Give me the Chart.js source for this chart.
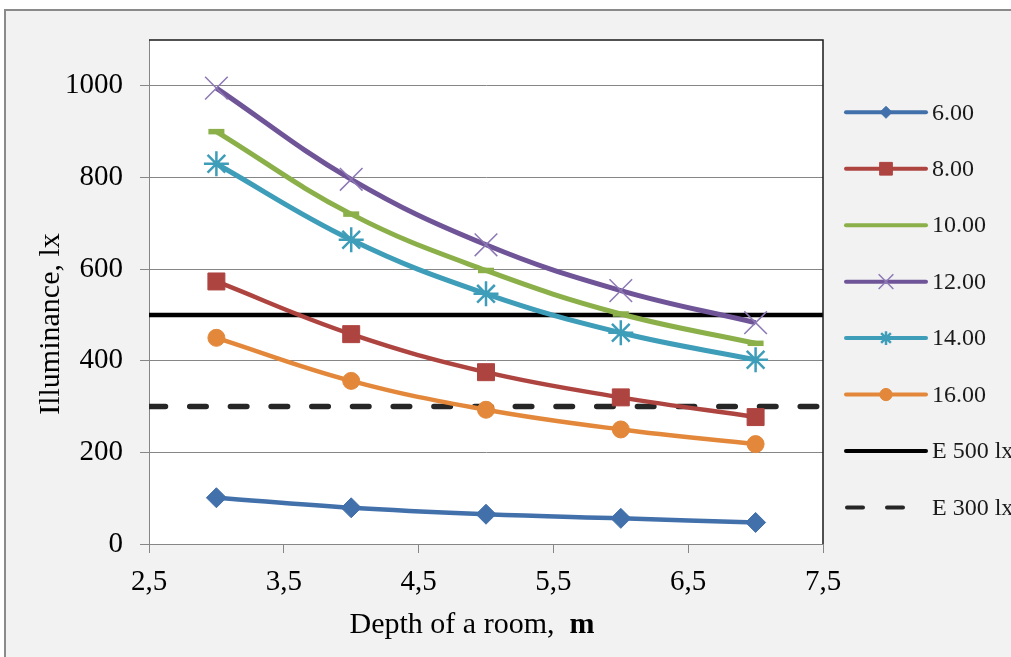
<!DOCTYPE html>
<html>
<head>
<meta charset="utf-8">
<style>
  html, body { margin: 0; padding: 0; background: #ffffff; }
  #wrap { position: relative; width: 1011px; height: 657px; }
  canvas { display: block; }
</style>
<script src="https://cdn.jsdelivr.net/npm/chart.js@4.4.1/dist/chart.umd.min.js"></script>
</head>
<body>
<div id="wrap"><canvas id="c" width="1011" height="657"></canvas></div>
<script>
// Room depth (m) and illuminance (lx) for each series
const depths = [3, 4, 5, 6, 7];
const seriesNames = ['6.00', '8.00', '10.00', '12.00', '14.00', '16.00'];
const lux6  = [101, 79, 65, 56, 47];
const lux8  = [573, 458, 375, 320, 277];
const lux10 = [900, 720, 597, 502, 438];
const lux12 = [995, 796, 653, 553, 483];
const lux14 = [830, 664, 546, 461, 402];
const lux16 = [450, 356, 293, 250, 218];

// Required illuminance levels
const refNames = ['E 500 lx', 'E 300 lx'];
const refLevels = [500, 300];

// Axis ticks
const xRange = [2.5, 7.5];
const xTickValues = [2.5, 3.5, 4.5, 5.5, 6.5, 7.5];
const xTickLabels = ['2,5', '3,5', '4,5', '5,5', '6,5', '7,5'];
const yTickValues = [0, 200, 400, 600, 800, 1000];
const yTickLabels = ['0', '200', '400', '600', '800', '1000'];

const SERIF = '"Liberation Serif", "Times New Roman", serif';

const seriesValues = [lux6, lux8, lux10, lux12, lux14, lux16];
const seriesStyle = [
  { color: '#4270AB', mark: '#4270AB', point: 'rectRot',  r: 10,   bw: 1,   lw: 4.5, lr: 0.6 },
  { color: '#AE4440', mark: '#AE4440', point: 'rect',     r: 12,   bw: 1,   lw: 4.5, lr: 0.75 },
  { color: '#8BB04A', mark: '#8BB04A', point: 'line',     r: 8,    bw: 5.5, lw: 5,   lr: 0 },
  { color: '#6F5497', mark: '#8D78B5', point: 'crossRot', r: 16,   bw: 1.5, lw: 5,   lr: 0.65 },
  { color: '#3E9DB8', mark: '#3E9DB8', point: 'star',     r: 12.5, bw: 2.5, lw: 5,   lr: 0.55 },
  { color: '#E3883A', mark: '#E3883A', point: 'circle',   r: 8.5,  bw: 1,   lw: 4.5, lr: 0.72 }
];

const datasets = seriesValues.map((vals, i) => {
  const s = seriesStyle[i];
  return {
    label: seriesNames[i],
    data: depths.map((d, k) => ({ x: d, y: vals[k] })),
    borderColor: s.color,
    backgroundColor: s.mark,
    borderWidth: s.lw,
    tension: 0.4,
    pointStyle: s.point,
    pointRadius: s.r,
    pointBorderWidth: s.bw,
    pointBorderColor: s.mark,
    pointBackgroundColor: s.mark,
    legendMarkerScale: s.lr
  };
});

refLevels.forEach((lv, i) => {
  datasets.push({
    label: refNames[i],
    data: xRange.map(x => ({ x: x, y: lv })),
    borderColor: i === 0 ? '#000000' : '#262626',
    backgroundColor: i === 0 ? '#000000' : '#262626',
    borderWidth: i === 0 ? 4.5 : 5.5,
    borderDash: i === 0 ? [] : [16.5, 24.2],
    borderCapStyle: i === 0 ? 'butt' : 'round',
    pointRadius: 0,
    tension: 0,
    legendMarkerScale: 0
  });
});

// Backgrounds, plot frame, axis titles and the legend on the right
const decor = {
  id: 'decor',
  beforeDraw(chart) {
    const ctx = chart.ctx;
    const a = chart.chartArea;
    ctx.save();
    ctx.fillStyle = '#ffffff';
    ctx.fillRect(0, 0, chart.width, chart.height);
    ctx.fillStyle = '#f2f2f2';
    ctx.fillRect(4, 9, chart.width, chart.height);
    ctx.strokeStyle = '#8a8a8a';
    ctx.lineWidth = 2;
    ctx.beginPath();
    ctx.moveTo(5, chart.height);
    ctx.lineTo(5, 10);
    ctx.lineTo(chart.width, 10);
    ctx.stroke();
    ctx.fillStyle = '#ffffff';
    ctx.fillRect(a.left, a.top, a.right - a.left, a.bottom - a.top);
    ctx.restore();
  },
  afterDraw(chart) {
    const ctx = chart.ctx;
    const a = chart.chartArea;
    ctx.save();
    // top and right frame of the plot
    ctx.strokeStyle = '#1a1a1a';
    ctx.lineWidth = 1.5;
    ctx.beginPath();
    ctx.moveTo(a.left, a.top);
    ctx.lineTo(a.right, a.top);
    ctx.lineTo(a.right, a.bottom);
    ctx.stroke();

    // axis titles
    ctx.fillStyle = '#000000';
    ctx.textBaseline = 'alphabetic';
    ctx.font = '30px ' + SERIF;
    const t1 = 'Depth of a room,  ';
    const w1 = ctx.measureText(t1).width;
    ctx.font = 'bold 30px ' + SERIF;
    const w2 = ctx.measureText('m').width;
    const x0 = 472 - (w1 + w2) / 2;
    ctx.font = '30px ' + SERIF;
    ctx.textAlign = 'left';
    ctx.fillText(t1, x0, 633);
    ctx.font = 'bold 30px ' + SERIF;
    ctx.fillText('m', x0 + w1, 633);

    ctx.save();
    ctx.translate(58.5, 324);
    ctx.rotate(-Math.PI / 2);
    ctx.font = '30px ' + SERIF;
    ctx.textAlign = 'center';
    ctx.fillText('Illuminance, lx', 0, 0);
    ctx.restore();

    // legend
    const x1 = 846, x2 = 926, xm = 886, y0 = 112.3, step = 56.45;
    chart.data.datasets.forEach((ds, i) => {
      const y = y0 + i * step;
      const dashed = ds.borderDash && ds.borderDash.length;
      ctx.save();
      ctx.strokeStyle = ds.borderColor;
      ctx.lineWidth = 4;
      ctx.lineCap = 'round';
      ctx.setLineDash(dashed ? [16, 24] : []);
      ctx.beginPath();
      ctx.moveTo(x1 + (dashed ? 1 : 0), y);
      ctx.lineTo(x2, y);
      ctx.stroke();
      ctx.restore();
      if (ds.legendMarkerScale > 0) {
        ctx.save();
        ctx.fillStyle = ds.pointBackgroundColor;
        ctx.strokeStyle = ds.pointBorderColor;
        ctx.lineWidth = ds.pointBorderWidth;
        Chart.helpers.drawPoint(ctx, {
          pointStyle: ds.pointStyle,
          radius: ds.pointRadius * ds.legendMarkerScale,
          rotation: 0,
          borderWidth: ds.pointBorderWidth
        }, xm, y);
        ctx.restore();
      }
      ctx.fillStyle = '#1a1a1a';
      ctx.font = '24px ' + SERIF;
      ctx.textAlign = 'left';
      ctx.textBaseline = 'middle';
      ctx.fillText(ds.label, 932, y + 1);
    });
    ctx.restore();
  }
};

new Chart(document.getElementById('c'), {
  type: 'line',
  data: { datasets: datasets },
  options: {
    responsive: false,
    animation: false,
    devicePixelRatio: 1,
    layout: { padding: { left: 0, top: 40, right: 188, bottom: 0 } },
    plugins: {
      legend: { display: false },
      tooltip: { enabled: false },
      title: { display: false }
    },
    scales: {
      x: {
        type: 'linear',
        min: xRange[0],
        max: xRange[1],
        afterBuildTicks: s => { s.ticks = xTickValues.map(v => ({ value: v })); },
        afterFit: s => { s.height = 113; },
        ticks: {
          autoSkip: false,
          maxRotation: 0,
          padding: 12,
          color: '#000000',
          font: { family: SERIF, size: 29 },
          callback: (v, i) => xTickLabels[i]
        },
        grid: {
          drawOnChartArea: false,
          drawTicks: true,
          tickLength: 9,
          color: '#868686',
          lineWidth: 1
        },
        border: { color: '#868686', width: 1 },
        title: { display: false }
      },
      y: {
        type: 'linear',
        min: 0,
        max: 1100,
        afterBuildTicks: s => { s.ticks = yTickValues.map(v => ({ value: v })); },
        afterFit: s => { s.width = 149; },
        ticks: {
          autoSkip: false,
          padding: 17,
          color: '#000000',
          font: { family: SERIF, size: 29 },
          callback: (v, i) => yTickLabels[i]
        },
        grid: {
          drawTicks: true,
          tickLength: 9,
          color: '#868686',
          lineWidth: 1
        },
        border: { color: '#868686', width: 1 },
        title: { display: false }
      }
    }
  },
  plugins: [decor]
});
</script>
</body>
</html>
